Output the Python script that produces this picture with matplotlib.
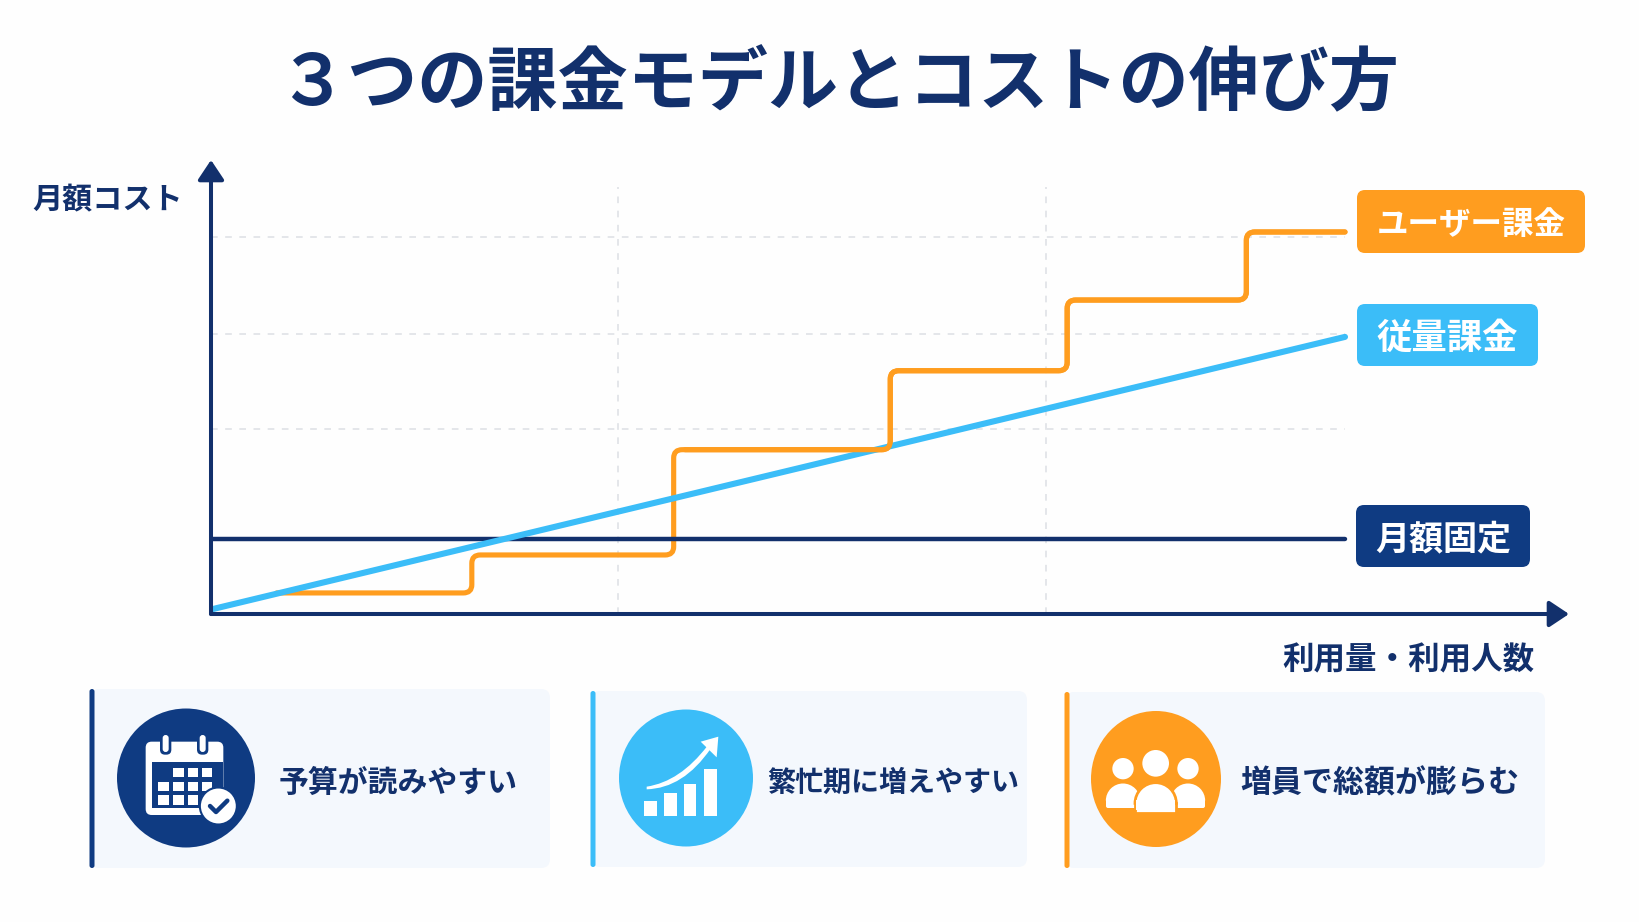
import numpy as np
import matplotlib
matplotlib.use("Agg")
import matplotlib.pyplot as plt
from matplotlib.patches import Circle, Ellipse, FancyBboxPatch, PathPatch, Polygon, Rectangle, Wedge
from matplotlib.path import Path

plt.rcParams['font.family'] = ['Noto Sans CJK JP', 'DejaVu Sans']

# Chart values (usage 0-100, cost index)
usage_line = [0, 100]
metered_cost = [1.2, 73.7]
fixed_cost = [19.9, 19.9]
seat_break_usage = [5.8, 23.0, 40.8, 59.9, 75.5, 91.3, 100]
seat_cost_levels = [5.6, 15.7, 43.7, 64.7, 83.5, 101.6]
grid_cost = [49.2, 74.5, 100.3]
grid_usage = [35.9, 73.6]

# Text
title_text = "\uff13つの課金モデルとコストの伸び方"
y_label = "月額コスト"
x_label = "利用量・利用人数"
tag_names = ["ユーザー課金", "従量課金", "月額固定"]
card_texts = ["予算が読みやすい", "繁忙期に増えやすい", "増員で総額が膨らむ"]

NAVY = "#12306c"
DEEP = "#0f3b82"
SKY = "#3bbdf8"
ORANGE = "#ff9d1f"
PANEL = "#f4f8fd"
GRID = "#dfe2e6"

W, H = 1640, 922
fig = plt.figure(figsize=(W / 100, H / 100), dpi=100, facecolor="#fefefe")

# Full-figure layer in pixel units for title, tags, cards and icons
page = fig.add_axes([0, 0, 1, 1], zorder=1)
page.set_xlim(0, W)
page.set_ylim(H, 0)
page.axis("off")
page.patch.set_alpha(0)

# Plot area: origin at the axis corner, scaled so 100 usage spans the line length
X0, Y0, X1, Y1 = 211, 614, 1569, 160
PX_X, PX_Y = 11.34, 3.76
ax = fig.add_axes([X0 / W, (H - Y0) / H, (X1 - X0) / W, (Y0 - Y1) / H], zorder=2)
ax.set_xlim(0, (X1 - X0) / PX_X)
ax.set_ylim(0, (Y0 - Y1) / PX_Y)
ax.axis("off")
ax.patch.set_alpha(0)

for c in grid_cost:
    ax.plot([0, 100], [c, c], color=GRID, lw=1.2, dashes=(4, 4.5), zorder=1)
for u in grid_usage:
    ax.plot([u, u], [0, 113.5], color=GRID, lw=1.2, dashes=(4, 4.5), zorder=1)


def rounded_steps(breaks, levels, rx=0.75, ry=2.2):
    """Staircase path with softened corners, from the first break to the last."""
    verts = [(breaks[0], levels[0])]
    codes = [Path.MOVETO]
    for b, lo, hi in zip(breaks[1:-1], levels[:-1], levels[1:]):
        verts += [(b - rx, lo), (b, lo), (b, lo + ry),
                  (b, hi - ry), (b, hi), (b + rx, hi)]
        codes += [Path.LINETO, Path.CURVE3, Path.CURVE3,
                  Path.LINETO, Path.CURVE3, Path.CURVE3]
    verts.append((breaks[-1], levels[-1]))
    codes.append(Path.LINETO)
    return Path(verts, codes)


step_style = dict(fill=False, edgecolor=ORANGE, lw=3.7, capstyle="round", joinstyle="round")
ax.add_patch(PathPatch(rounded_steps(seat_break_usage, seat_cost_levels), zorder=3, **step_style))
ax.plot(usage_line, fixed_cost, color=NAVY, lw=3.2, solid_capstyle="round", zorder=4)
ax.plot(usage_line, metered_cost, color=SKY, lw=4.4, solid_capstyle="round", zorder=5)
# Upper stairs sit in front of the metered line
upper_breaks = [seat_break_usage[2] + 1.0] + seat_break_usage[3:]
ax.add_patch(PathPatch(rounded_steps(upper_breaks, seat_cost_levels[2:]), zorder=6, **step_style))

# Axis arrows
for end in [(ax.get_xlim()[1], 0), (0, ax.get_ylim()[1])]:
    ax.annotate("", xy=end, xytext=(0, 0), zorder=7, annotation_clip=False,
                arrowprops=dict(arrowstyle="-|>,head_length=0.6,head_width=0.4",
                                color=NAVY, lw=2.9, shrinkA=0, shrinkB=0,
                                mutation_scale=20))

# Title and axis captions
page.text(838, 85, title_text, ha="center", va="center", fontsize=50.5,
          fontweight="bold", color=NAVY)
page.text(108, 200, y_label, ha="center", va="center", fontsize=21.7,
          fontweight="bold", color=NAVY)
page.text(1408, 660, x_label, ha="center", va="center", fontsize=22.7,
          fontweight="bold", color=NAVY)


def rounded(x0, y0, x1, y1, color, r=8, z=2):
    page.add_patch(FancyBboxPatch((x0, y0), x1 - x0, y1 - y0, zorder=z,
                                  boxstyle=f"round,pad=0,rounding_size={r}",
                                  facecolor=color, edgecolor="none"))


# Series name tags
tags = [(1357, 190, 1585, 253, ORANGE, 22.7), (1357, 304, 1538, 366, SKY, 25.5),
        (1356, 505, 1530, 567, DEEP, 24.5)]
for (x0, y0, x1, y1, col, fs), name in zip(tags, tag_names):
    rounded(x0, y0, x1, y1, col)
    page.text((x0 + x1) / 2, (y0 + y1) / 2 + 3, name, ha="center", va="center",
              fontsize=fs, fontweight="bold", color="white", zorder=3)

# Cards along the bottom
cards = [(90, 689, 550, 868, DEEP, (186, 778), 138, 139, 398, 21.5),
         (591, 691, 1027, 867, SKY, (686, 778), 134, 137, 893, 20.2),
         (1065, 692, 1545, 868, ORANGE, (1156, 779), 130, 136, 1380, 22.3)]
for (x0, y0, x1, y1, col, c, dw, dh, tx, fs), label in zip(cards, card_texts):
    rounded(x0, y0, x1, y1, PANEL, r=9, z=1)
    rounded(x0 - 0.5, y0, x0 + 4.5, y1, col, r=2.5, z=2)
    page.add_patch(Ellipse(c, dw, dh, facecolor=col, edgecolor="none", zorder=3))
    page.text(tx, 783, label, ha="center", va="center", fontsize=fs,
              fontweight="bold", color=NAVY, zorder=3)


def zx(base, v):
    return base + v / 3


# Calendar icon
bx, by = 80, 680
rounded(zx(bx, 197), zx(by, 185), zx(bx, 430), zx(by, 405), "white", r=6, z=4)
page.add_patch(Rectangle((zx(bx, 215), zx(by, 247)), 215 / 3, 138 / 3,
                         facecolor=DEEP, edgecolor="none", zorder=5))
for row, y in enumerate([263, 305, 345]):
    for cx in [235, 280, 323, 365]:
        if row == 0 and cx == 235:
            continue
        page.add_patch(Rectangle((zx(bx, cx), zx(by, y)), 32 / 3, 29 / 3,
                                 facecolor="white", edgecolor="none", zorder=6))
for cx in [257, 368]:
    rounded(zx(bx, cx - 17), zx(by, 160), zx(bx, cx + 17), zx(by, 224), DEEP, r=5, z=6)
    rounded(zx(bx, cx - 9), zx(by, 165), zx(bx, cx + 9), zx(by, 216), "white", r=3, z=7)
page.add_patch(Circle((zx(bx, 415), zx(by, 378)), 18.5, facecolor="white",
                      edgecolor=DEEP, lw=1.5, zorder=8))
page.plot([zx(bx, 390), zx(bx, 408), zx(bx, 442)], [zx(by, 378), zx(by, 396), zx(by, 362)],
          color=DEEP, lw=3.2, solid_capstyle="round", solid_joinstyle="round", zorder=9)

# Rising bars icon
bx = 580
for left, right, top in [(192, 230, 363), (251, 290, 340), (311, 349, 311), (371, 410, 268)]:
    page.add_patch(Rectangle((zx(bx, left), zx(by, top)), (right - left) / 3, (407 - top) / 3,
                             facecolor="white", edgecolor="none", zorder=4))
swoosh = Path([(zx(bx, 200), zx(by, 320)), (zx(bx, 300), zx(by, 305)), (zx(bx, 382), zx(by, 198)),
               (zx(bx, 392), zx(by, 206)), (zx(bx, 310), zx(by, 325)), (zx(bx, 200), zx(by, 328)),
               (zx(bx, 200), zx(by, 320))],
              [Path.MOVETO, Path.CURVE3, Path.CURVE3, Path.LINETO, Path.CURVE3, Path.CURVE3,
               Path.CLOSEPOLY])
page.add_patch(PathPatch(swoosh, facecolor="white", edgecolor="none", zorder=4))
page.add_patch(Polygon([(zx(bx, 415), zx(by, 170)), (zx(bx, 362), zx(by, 185)),
                        (zx(bx, 410), zx(by, 232))], facecolor="white", edgecolor="none", zorder=4))

# Group of people icon
bx = 1060
for hx in [189, 384]:
    page.add_patch(Circle((zx(bx, hx), zx(by, 266)), 32 / 3, facecolor="white",
                          edgecolor="none", zorder=4))
for left, right in [(138, 240), (333, 435)]:
    mid = (left + right) / 2
    page.add_patch(Wedge((zx(bx, mid), zx(by, 362)), 50 / 3 + 0.5, 180, 360,
                         facecolor="white", edgecolor="none", zorder=4))
    rounded(zx(bx, left), zx(by, 355), zx(bx, right), zx(by, 384), "white", r=2, z=4)
page.add_patch(Circle((zx(bx, 287), zx(by, 250)), 40 / 3, facecolor="white",
                      edgecolor="none", zorder=6))
page.add_patch(Wedge((zx(bx, 287), zx(by, 370)), 62 / 3, 180, 360, facecolor="white",
                     edgecolor=ORANGE, lw=2, zorder=5))
page.add_patch(Rectangle((zx(bx, 225), zx(by, 368)), 123 / 3, 30 / 3, facecolor="white",
                         edgecolor=ORANGE, lw=2, zorder=5))
page.add_patch(Rectangle((zx(bx, 227), zx(by, 360)), 119 / 3, 30 / 3, facecolor="white",
                         edgecolor="none", zorder=5.5))

fig.savefig("out.png", dpi=100, facecolor=fig.get_facecolor())
